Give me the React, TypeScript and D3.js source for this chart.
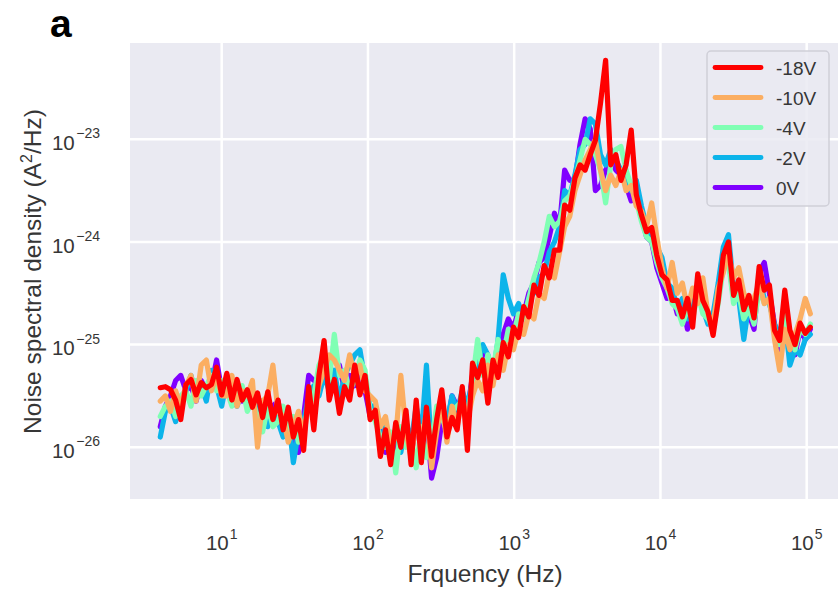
import React from 'react';
import * as d3 from 'd3';

// log10 of frequency (Hz) for each sample
const logFreq = [
  0.580,0.615,0.650,0.685,0.720,0.755,0.790,0.825,0.860,0.895,0.930,0.965,1.000,1.035,1.070,1.105,1.140,1.175,1.210,1.245,
  1.280,1.315,1.350,1.385,1.420,1.455,1.490,1.525,1.560,1.595,1.630,1.665,1.700,1.735,1.770,1.805,1.840,1.875,1.910,1.945,
  1.980,2.015,2.050,2.085,2.120,2.155,2.190,2.225,2.260,2.295,2.330,2.365,2.400,2.435,2.470,2.505,2.540,2.575,2.610,2.645,
  2.680,2.715,2.750,2.785,2.820,2.855,2.890,2.925,2.960,2.995,3.030,3.065,3.100,3.135,3.170,3.205,3.240,3.275,3.310,3.345,
  3.380,3.415,3.450,3.485,3.520,3.555,3.590,3.625,3.660,3.695,3.730,3.765,3.800,3.835,3.870,3.905,3.940,3.975,4.010,4.045,
  4.080,4.115,4.150,4.185,4.220,4.255,4.290,4.325,4.360,4.395,4.430,4.465,4.500,4.535,4.570,4.605,4.640,4.675,4.710,4.745,
  4.780,4.815,4.850,4.885,4.920,4.955,4.990,5.025,
];

// log10 of noise spectral density (A^2/Hz)
const psd18V = [
  -25.42,-25.41,-25.44,-25.54,-25.73,-25.39,-25.34,-25.49,-25.37,-25.42,-25.39,-25.22,-25.49,
  -25.28,-25.54,-25.34,-25.54,-25.44,-25.61,-25.47,-25.71,-25.46,-25.73,-25.54,-25.83,-25.61,-25.90,-25.73,-26.03,-25.41,-25.83,
  -25.30,-24.96,-25.54,-25.34,-25.67,-25.41,-25.54,-25.20,-25.49,-25.30,-25.73,
  -25.64,-26.09,-25.83,-26.17,-25.76,-26.00,-25.64,-26.17,-25.54,-26.15,-25.61,-26.09,-25.73,-25.44,-25.90,-25.71,-25.83,-25.41,-26.03,
  -25.18,-25.32,-25.15,-25.57,-25.15,-25.32,-24.98,-25.12,-24.83,-24.93,-24.63,-24.73,-24.42,-24.52,-24.23,-24.35,-24.08,-24.08,-23.64,-23.69,
  -23.38,-23.25,-23.30,-23.15,-23.01,-22.65,-22.23,-23.25,-23.15,-23.40,-23.25,-22.91,-23.54,-23.74,-23.90,
  -23.86,-24.13,-24.32,-24.37,-24.57,-24.57,-24.73,-24.55,-24.83,-24.31,-24.57,-24.68,-24.91,-24.57,-24.13,
  -24.00,-24.52,-24.37,-24.66,-24.52,-24.74,-24.24,-24.47,-24.42,-24.86,-24.96,-24.47,-24.86,-25.00,-24.79,-24.89,-24.83,
];

const psd10V = [
  -25.55,-25.50,-25.65,-25.45,-25.60,-25.40,-25.30,-25.55,-25.20,-25.15,-25.45,-25.30,-25.50,
  -25.50,-25.30,-25.60,-25.45,-25.50,-25.35,-26.00,-25.55,-25.50,-25.20,-25.65,-25.70,-25.95,-25.80,-25.65,-25.90,-25.55,-25.70,
  -25.40,-25.25,-25.10,-25.15,-25.25,-25.35,-25.10,-25.30,-25.20,-25.45,-25.50,
  -25.55,-25.80,-25.70,-26.00,-25.90,-25.30,-25.85,-26.10,-25.75,-25.95,-25.65,-26.20,-25.85,-25.55,-25.95,-25.60,-25.80,-25.50,-25.75,
  -25.50,-25.35,-25.45,-25.20,-25.40,-25.10,-25.25,-25.00,-25.05,-24.85,-24.90,-24.70,-24.75,-24.50,-24.55,-24.30,-24.35,-24.10,-23.85,-23.75,
  -23.50,-23.35,-23.20,-23.10,-23.00,-23.30,-23.50,-23.35,-23.45,-23.30,-23.50,-23.45,-23.65,-23.70,-23.85,
  -23.62,-23.95,-24.25,-24.45,-24.20,-24.50,-24.40,-24.65,-24.45,-24.60,-24.35,-24.70,-24.80,-24.45,-24.30,
  -24.10,-24.35,-24.25,-24.50,-24.60,-24.55,-24.40,-24.60,-24.55,-24.95,-25.25,-24.85,-25.05,-24.90,-24.75,-24.55,-24.70,
];

const psd4V = [
  -25.70,-25.60,-25.55,-25.70,-25.50,-25.45,-25.60,-25.35,-25.50,-25.40,-25.30,-25.45,-25.35,
  -25.45,-25.60,-25.50,-25.40,-25.65,-25.55,-25.70,-25.85,-25.60,-25.80,-25.75,-25.60,-25.85,-25.70,-25.95,-25.80,-25.60,-25.50,
  -25.20,-25.10,-25.35,-24.90,-25.30,-25.25,-25.45,-25.35,-25.15,-25.25,-25.65,
  -25.75,-25.90,-26.00,-25.85,-26.25,-25.80,-26.00,-25.90,-26.20,-25.80,-26.10,-25.95,-25.60,-25.70,-25.85,-25.65,-25.60,-25.55,-25.70,
  -25.35,-24.95,-25.30,-25.10,-25.25,-24.95,-25.10,-24.85,-24.90,-24.70,-24.75,-24.55,-24.35,-24.20,-24.00,-23.75,-23.85,-23.80,-23.60,-23.55,
  -23.40,-23.20,-23.00,-23.05,-23.15,-23.30,-23.62,-23.25,-23.10,-23.07,-23.30,-23.45,-23.60,-23.80,-23.95,
  -24.00,-24.20,-24.35,-24.45,-24.60,-24.65,-24.80,-24.65,-24.75,-24.50,-24.70,-24.75,-24.85,-24.60,-24.25,
  -24.20,-24.60,-24.50,-24.75,-24.65,-24.80,-24.45,-24.60,-24.55,-24.85,-25.00,-24.70,-24.90,-25.05,-24.85,-24.90,-24.80,
];

const psd2V = [
  -25.90,-25.65,-25.60,-25.75,-25.55,-25.45,-25.30,-25.50,-25.40,-25.55,-25.25,-25.40,-25.60,
  -25.35,-25.55,-25.60,-25.45,-25.60,-25.50,-25.65,-25.55,-25.80,-25.65,-25.75,-25.90,-25.70,-26.15,-25.85,-25.75,-25.50,-25.40,
  -25.50,-25.30,-25.45,-25.25,-25.55,-25.30,-25.20,-25.10,-25.05,-25.35,-25.60,
  -25.60,-25.95,-25.80,-26.10,-25.85,-26.05,-25.75,-25.95,-25.60,-25.90,-25.20,-26.05,-25.80,-25.60,-25.75,-25.50,-25.65,-25.45,-25.60,
  -25.35,-25.20,-25.00,-25.10,-25.30,-24.95,-24.32,-24.55,-24.70,-24.60,-24.75,-24.55,-24.50,-24.35,-24.30,-24.10,-24.00,-23.85,-23.50,-23.55,
  -23.35,-23.10,-23.05,-22.80,-22.85,-23.15,-23.25,-23.10,-23.20,-23.30,-23.35,-23.50,-23.40,-23.65,-23.85,
  -23.95,-24.05,-24.15,-24.40,-24.45,-24.65,-24.55,-24.75,-24.60,-24.50,-24.65,-24.80,-24.70,-24.40,-24.05,
  -23.93,-24.45,-24.55,-24.95,-24.60,-24.70,-24.35,-24.55,-24.60,-24.80,-24.90,-24.75,-25.20,-25.05,-25.10,-24.95,-24.90,
];

const psd0V = [
  -25.80,-25.60,-25.50,-25.35,-25.30,-25.45,-25.40,-25.55,-25.35,-25.45,-25.40,-25.15,-25.45,
  -25.40,-25.50,-25.40,-25.55,-25.45,-25.60,-25.50,-25.65,-25.75,-25.60,-25.55,-25.80,-25.75,-25.95,-26.05,-25.70,-25.30,-25.35,
  -25.35,-25.15,-25.40,-25.30,-25.20,-25.45,-25.30,-25.40,-25.25,-25.45,-25.70,
  -25.70,-25.85,-26.05,-25.90,-26.10,-25.85,-25.95,-26.05,-25.80,-25.90,-25.70,-26.30,-26.10,-25.75,-25.80,-25.50,-25.60,-25.55,-25.65,
  -25.30,-25.15,-25.05,-25.35,-25.20,-25.30,-24.90,-24.75,-24.85,-24.65,-24.70,-24.50,-24.40,-24.20,-24.15,-23.95,-23.72,-23.85,-23.30,-23.40,
  -23.40,-23.05,-22.80,-22.90,-23.50,-23.45,-23.30,-23.20,-23.30,-23.35,-23.45,-23.60,-23.55,-23.75,-23.95,
  -24.00,-24.25,-24.40,-24.55,-24.50,-24.70,-24.60,-24.85,-24.70,-24.42,-24.60,-24.75,-24.80,-24.50,-24.20,
  -24.15,-24.55,-24.50,-24.65,-24.70,-24.85,-24.30,-24.20,-24.50,-24.80,-25.05,-24.60,-24.95,-25.10,-24.85,-24.95,-24.85,
];

const legendLabels = ['-18V', '-10V', '-4V', '-2V', '0V'];
const legendColors = ['#FF0000', '#FBAE62', '#80FFB4', '#0CB4EA', '#8000FF'];
const seriesData = [psd18V, psd10V, psd4V, psd2V, psd0V];

const xTickExps = [1, 2, 3, 4, 5];
const yTickExps = [-26, -25, -24, -23];

const FONT = '"Liberation Sans", Arial, Helvetica, sans-serif';

export default function App() {
  const W = 838, H = 590;
  const left = 130, right = 838, top = 43, bottom = 499;
  const x = d3.scaleLog().domain([Math.pow(10, 0.373), Math.pow(10, 5.214)]).range([left, right]);
  const y = d3.scaleLog().domain([Math.pow(10, -26.504), Math.pow(10, -22.062)]).range([bottom, top]);

  const line = d3.line<number>()
    .x((_d, i) => x(Math.pow(10, logFreq[i])))
    .y((d) => y(Math.pow(10, d)));

  const drawOrder = [4, 3, 2, 1, 0];
  const textColor = '#363636';

  return (
    <div style={{ position: 'absolute', left: 0, top: 0 }}>
      <svg width={W} height={H} style={{ display: 'block', background: '#ffffff' }} fontFamily={FONT}>
        <defs>
          <clipPath id="plotClip">
            <rect x={left} y={top} width={right - left} height={bottom - top} />
          </clipPath>
        </defs>
        <rect x={left} y={top} width={right - left} height={bottom - top} fill="#EAEAF2" />
        {xTickExps.map((e) => (
          <line key={'gx' + e} x1={x(Math.pow(10, e))} x2={x(Math.pow(10, e))} y1={top} y2={bottom} stroke="#ffffff" strokeWidth={2.5} />
        ))}
        {yTickExps.map((e) => (
          <line key={'gy' + e} x1={left} x2={right} y1={y(Math.pow(10, e))} y2={y(Math.pow(10, e))} stroke="#ffffff" strokeWidth={2.5} />
        ))}
        <g clipPath="url(#plotClip)">
          {drawOrder.map((k) => (
            <path key={'s' + k} d={line(seriesData[k]) || ''} fill="none" stroke={legendColors[k]}
              strokeWidth={5.2} strokeLinejoin="round" strokeLinecap="round" />
          ))}
        </g>
        {xTickExps.map((e) => (
          <text key={'tx' + e} x={x(Math.pow(10, e))} y={550} textAnchor="middle" fontSize={20.5} fill={textColor}>
            <tspan>10</tspan>
            <tspan dx={1} dy={-11.5} fontSize={14}>{String(e)}</tspan>
          </text>
        ))}
        {yTickExps.map((e) => (
          <text key={'ty' + e} x={100} y={y(Math.pow(10, e)) + 10.7} textAnchor="end" fontSize={20.5} fill={textColor}>
            <tspan>10</tspan>
            <tspan dx={1.5} dy={-11.5} fontSize={14}>{'\u2212' + String(-e)}</tspan>
          </text>
        ))}
        <text x={485} y={582} textAnchor="middle" fontSize={24.5} fill={textColor}>Frquency (Hz)</text>
        <text transform="translate(41,271.5) rotate(-90)" textAnchor="middle" fontSize={24.5} fill={textColor}>
          <tspan>Noise spectral density (A</tspan>
          <tspan dy={-9} fontSize={16}>2</tspan>
          <tspan dy={9}>/Hz)</tspan>
        </text>
        <text x={50} y={37} fontSize={39} fontWeight="bold" fill="#000000">a</text>
        <g>
          <rect x={707} y={51} width={122} height={155} rx={4} ry={4} fill="rgba(234,234,242,0.85)" stroke="#CFCFD8" strokeWidth={1.5} />
          {legendLabels.map((lab, i) => {
            const ly = 67.5 + i * 30;
            return (
              <g key={'lg' + i}>
                <line x1={715} x2={761} y1={ly} y2={ly} stroke={legendColors[i]} strokeWidth={4.8} strokeLinecap="round" />
                <text x={776} y={ly + 7} fontSize={19} fill={textColor}>{lab}</text>
              </g>
            );
          })}
        </g>
      </svg>
    </div>
  );
}
